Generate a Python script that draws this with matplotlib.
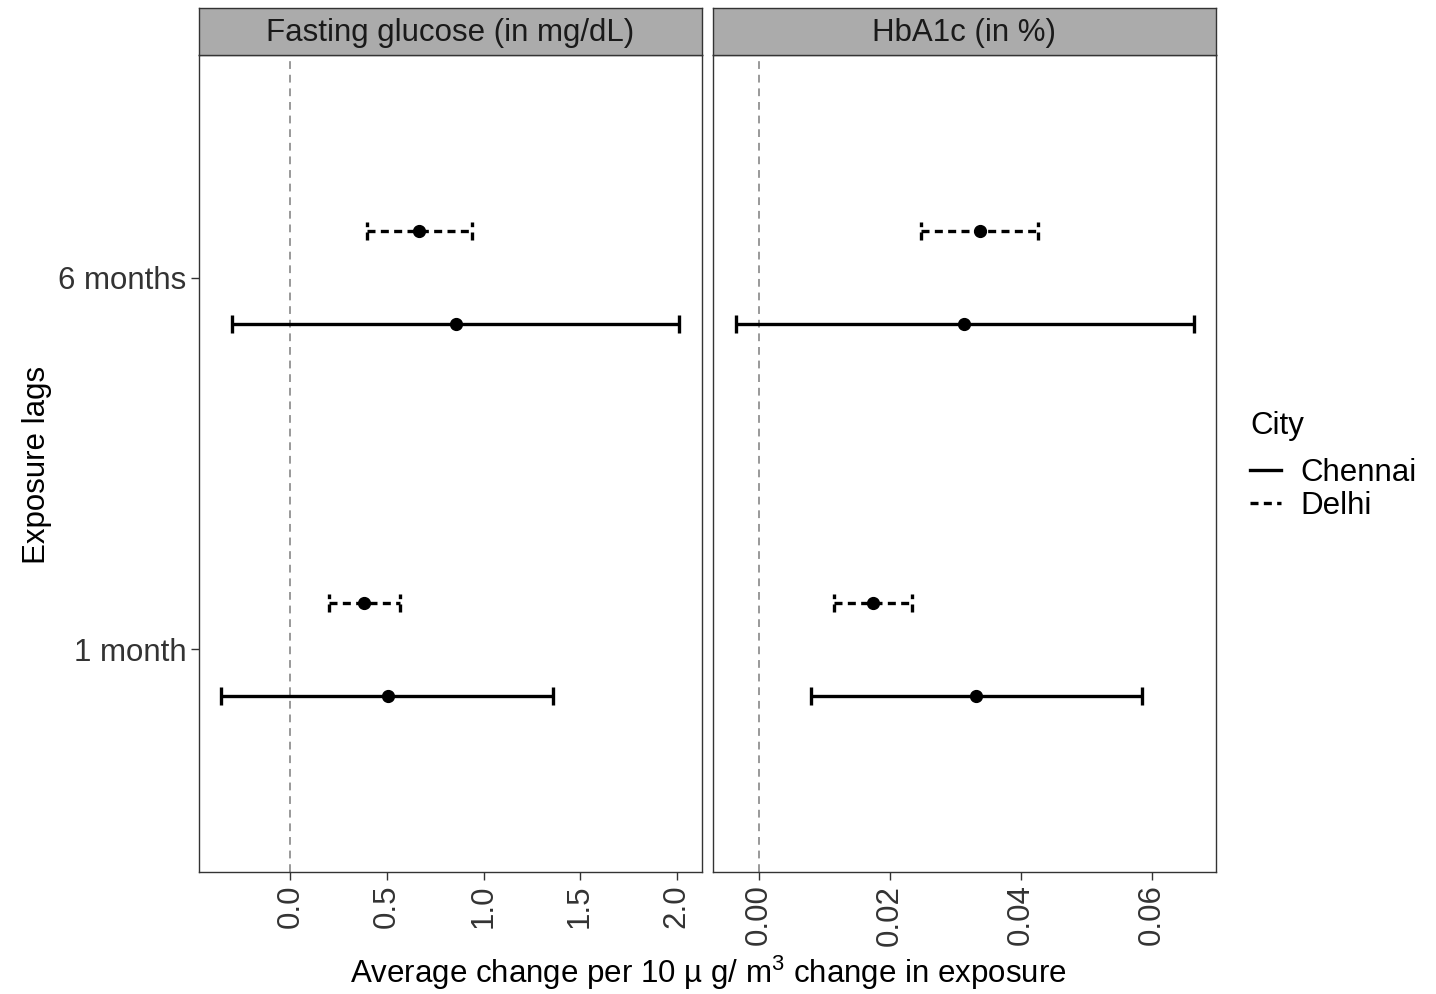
import matplotlib
matplotlib.use("Agg")
import matplotlib.pyplot as plt
from matplotlib.lines import Line2D

plt.rcParams['font.family'] = ['Liberation Sans', 'DejaVu Sans']
plt.rcParams['mathtext.fontset'] = 'custom'
plt.rcParams['mathtext.rm'] = 'Liberation Sans'
plt.rcParams['mathtext.it'] = 'Liberation Sans:italic'

# ---- data ----
panels = ["Fasting glucose (in mg/dL)", "HbA1c (in %)"]
lags = ["1 month", "6 months"]
cities = ["Chennai", "Delhi"]

# estimates per lag (1 month, 6 months)
fg_chennai_est = [0.504, 0.858]
fg_chennai_lo = [-0.360, -0.302]
fg_chennai_hi = [1.359, 2.014]
fg_delhi_est = [0.382, 0.668]
fg_delhi_lo = [0.199, 0.395]
fg_delhi_hi = [0.567, 0.939]

hb_chennai_est = [0.0331, 0.0313]
hb_chennai_lo = [0.0079, -0.0035]
hb_chennai_hi = [0.0585, 0.0664]
hb_delhi_est = [0.0174, 0.0337]
hb_delhi_lo = [0.0115, 0.0247]
hb_delhi_hi = [0.0234, 0.0426]

fg_ticks = [0.0, 0.5, 1.0, 1.5, 2.0]
fg_ticklabels = ["0.0", "0.5", "1.0", "1.5", "2.0"]
hb_ticks = [0.00, 0.02, 0.04, 0.06]
hb_ticklabels = ["0.00", "0.02", "0.04", "0.06"]

data = {
    0: {"Chennai": (fg_chennai_est, fg_chennai_lo, fg_chennai_hi),
        "Delhi": (fg_delhi_est, fg_delhi_lo, fg_delhi_hi)},
    1: {"Chennai": (hb_chennai_est, hb_chennai_lo, hb_chennai_hi),
        "Delhi": (hb_delhi_est, hb_delhi_lo, hb_delhi_hi)},
}

# ---- style ----
W, H = 1436, 994
FS = 22.5
fig = plt.figure(figsize=(W / 100, H / 100), dpi=100)
border = '#333333'
strip_fill = '#ababab'
city_ls = {"Chennai": '-', "Delhi": (0, (2.4, 1.6))}
city_off = {"Chennai": -0.125, "Delhi": 0.125}
xlims = [(-0.474, 2.132), (-0.00702, 0.0698)]
ticks = [(fg_ticks, fg_ticklabels), (hb_ticks, hb_ticklabels)]

def fx(px):
    return px / W

def fy(py):
    return 1 - py / H

panel_x = [199, 713]
panel_w = 503
top_plot, bot_plot, top_strip = 55, 872, 8

axes = []
for i in range(2):
    ax = fig.add_axes([fx(panel_x[i]), fy(bot_plot), panel_w / W, (bot_plot - top_plot) / H])
    axes.append(ax)
    ax.set_xlim(*xlims[i])
    ax.set_ylim(0.4, 2.6)
    ax.axvline(0, color='#999999', lw=1.4, ls=(0, (4, 3)), zorder=1)
    ypos = list(range(1, len(lags) + 1))
    for city in cities:
        est, lo, hi = data[i][city]
        ys = [y + city_off[city] for y in ypos]
        ls = city_ls[city]
        ax.hlines(ys, lo, hi, colors='black', lw=2.4, linestyles=[ls], zorder=3)
        for y, l, h in zip(ys, lo, hi):
            ax.vlines([l, h], y - 0.024, y + 0.024, colors='black', lw=2.4,
                      linestyles=[ls], zorder=3)
        ax.plot(est, ys, 'o', color='black', ms=8.5, zorder=4)
    ax.set_xticks(ticks[i][0])
    ax.set_xticklabels(ticks[i][1], rotation=90, fontsize=FS, color='#333333')
    ax.set_yticks(ypos)
    if i == 0:
        ax.set_yticklabels(lags, fontsize=FS, color='#333333')
    else:
        ax.set_yticklabels([])
    ax.tick_params(axis='both', color=border, width=1.0, length=6, pad=3)
    if i == 1:
        ax.tick_params(axis='y', length=0)
    for s in ax.spines.values():
        s.set_color(border)
        s.set_linewidth(1.0)
    # strip
    sax = fig.add_axes([fx(panel_x[i]), fy(top_plot), panel_w / W, (top_plot - top_strip) / H])
    sax.set_facecolor(strip_fill)
    sax.set_xticks([])
    sax.set_yticks([])
    for s in sax.spines.values():
        s.set_color(border)
        s.set_linewidth(1.0)
    sax.text(0.5, 0.47, panels[i], ha='center', va='center', fontsize=FS,
             color='#1a1a1a', transform=sax.transAxes)

fig.text(fx(37), fy(465), "Exposure lags", rotation=90, ha='center', va='center',
         fontsize=FS)
fig.text(fx(708), fy(973), "Average change per 10 µ g/ m$^3$ change in exposure",
         ha='center', va='center', fontsize=FS)

# legend
fig.text(fx(1250), fy(426), "City", ha='left', va='center', fontsize=FS)
handles = [Line2D([0], [0], color='black', lw=2.4, ls=city_ls[c]) for c in cities]
leg = fig.legend(handles, cities, loc='upper left',
                 bbox_to_anchor=(fx(1222), fy(430)), frameon=False,
                 fontsize=FS, handlelength=1.0,
                 handletextpad=0.6, labelspacing=0.1)

fig.savefig("out.png", dpi=100, facecolor='white')
